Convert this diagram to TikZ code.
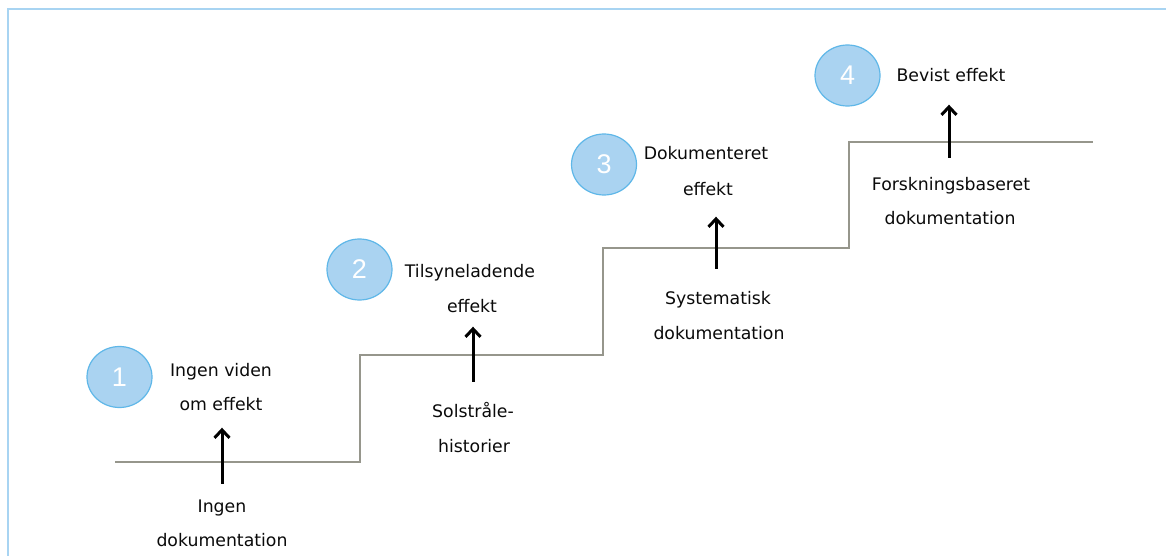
\documentclass[tikz,border=0pt]{standalone}
\usepackage{fontspec}
\setmainfont{DejaVu Sans}
\newfontfamily\numfont{Liberation Sans}
\usetikzlibrary{arrows.meta,shapes.geometric}
\definecolor{frameblue}{RGB}{168,212,242}
\definecolor{circfill}{RGB}{170,211,241}
\definecolor{circline}{RGB}{95,183,232}
\definecolor{stepgray}{RGB}{150,150,140}
\definecolor{txt}{RGB}{10,10,10}
\tikzset{
  lbl/.style={inner sep=0pt, anchor=base, text height=12pt, text depth=3.5pt,
    font=\fontsize{17.3}{20}\selectfont, text=txt},
  numcirc/.style={ellipse, draw=circline, line width=1.2pt, fill=circfill,
    minimum width=65pt, minimum height=61pt, inner sep=0pt,
    font=\numfont\fontsize{27}{30}\selectfont, text=white},
  stair/.style={draw=stepgray, line width=1.6pt},
  uparrow/.style={draw=black, line width=3pt, -{Straight Barb[length=8pt,width=15pt,line width=3pt]}},
  frame/.style={draw=frameblue, line width=2.6pt}
}
\begin{document}
\begin{tikzpicture}[x=1pt,y=-1pt]
\useasboundingbox (0,0) rectangle (1166,556);
\draw[frame] (8,556) -- (8,9) -- (1166,9);

% staircase
\draw[stair] (115,462) -- (360,462) -- (360,355) -- (603,355) -- (603,248) -- (849,248) -- (849,142) -- (1093,142);

% numbered circles
\node[numcirc] (c1) at (119.5,377) {1};
\node[numcirc] (c2) at (359.5,269.5) {2};
\node[numcirc] (c3) at (604,164.5) {3};
\node[numcirc] (c4) at (847.5,75.5) {4};

% step 1
\node[lbl] (t1a) at (221,376) {Ingen viden};
\node[lbl] (t1b) at (221,410) {om effekt};
\node[lbl] (b1a) at (222,512) {Ingen};
\node[lbl] (b1b) at (222,546) {dokumentation};
% step 2
\node[lbl] (t2a) at (470,277) {Tilsyneladende};
\node[lbl] (t2b) at (472,312) {effekt};
\node[lbl] (b2a) at (473,417) {Solstråle-};
\node[lbl] (b2b) at (474,452) {historier};
% step 3
\node[lbl] (t3a) at (706,160) {Dokumenteret};
\node[lbl] (t3b) at (708,195) {effekt};
\node[lbl] (b3a) at (718,304) {Systematisk};
\node[lbl] (b3b) at (719,339) {dokumentation};
% step 4
\node[lbl] (t4a) at (951,82) {Bevist effekt};
\node[lbl] (b4a) at (951,190) {Forskningsbaseret};
\node[lbl] (b4b) at (950,224) {dokumentation};

% arrows
\draw[uparrow, shorten <=16pt, shorten >=14pt] (b1a.north) -- (b1a.north |- t1b.south);
\draw[uparrow, shorten <=23pt, shorten >=11pt] (b2a.north) -- (b2a.north |- t2b.south);
\draw[uparrow, shorten <=23pt, shorten >=18pt] ([xshift=-2pt]b3a.north) -- ([xshift=-2pt]b3a.north |- t3b.south);
\draw[uparrow, shorten <=20pt, shorten >=19pt] ([xshift=-2pt]b4a.north) -- ([xshift=-2pt]b4a.north |- t4a.south);
\end{tikzpicture}
\end{document}
